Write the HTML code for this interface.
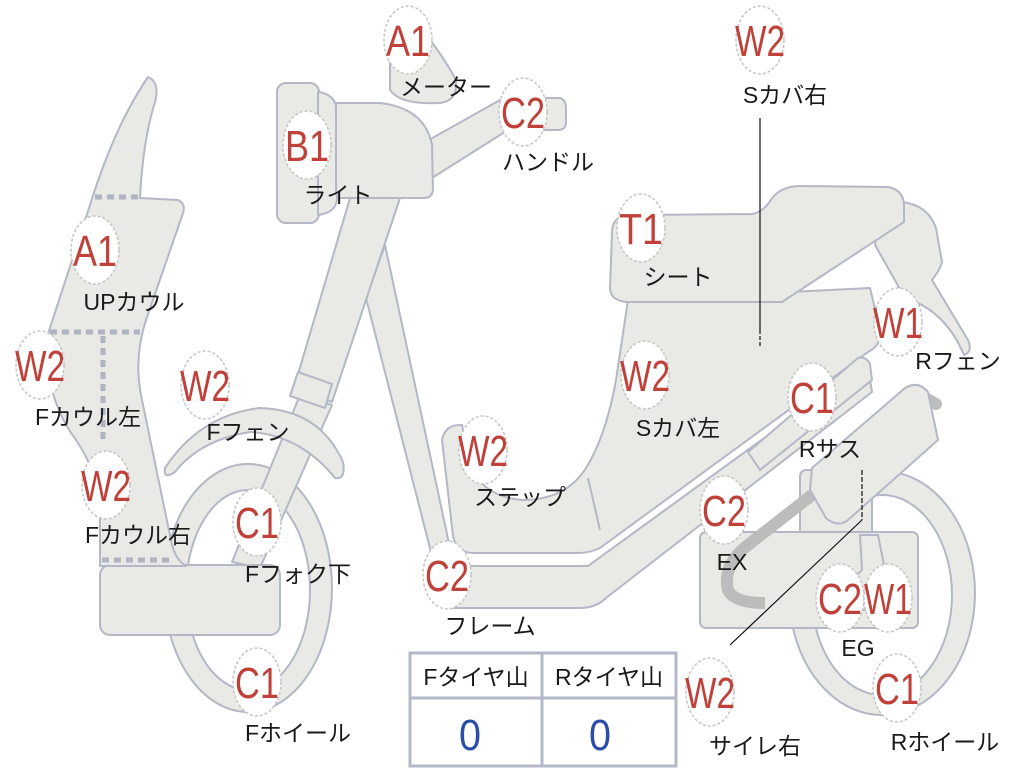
<!DOCTYPE html>
<html><head><meta charset="utf-8"><style>
html,body{margin:0;padding:0;background:#fff;width:1024px;height:768px;overflow:hidden}
svg{display:block}
.b{fill:#e9e9e5;stroke:#b4b8c6;stroke-width:2;stroke-linejoin:round}
.w{fill:#fff;stroke:#b4b8c6;stroke-width:2}
.bd ellipse{fill:#fff;stroke:#c4c4c4;stroke-width:1.5;stroke-dasharray:3 2}
.r{fill:#c0403a;font-family:"Liberation Sans",sans-serif;font-size:44px;text-anchor:middle}
.l{fill:#1a1a1a;font-family:"Liberation Sans","Noto Sans CJK JP",sans-serif;font-size:23px;text-anchor:middle}
.dot{stroke:#b0b4c2;stroke-width:5;stroke-dasharray:7 5;fill:none}
</style></head><body>
<svg width="1024" height="768" viewBox="0 0 1024 768" xmlns="http://www.w3.org/2000/svg">
<ellipse class="b" cx="882" cy="593" rx="93" ry="122"/>
<ellipse class="w" cx="882" cy="595" rx="70" ry="100"/>
<path class="b" d="M880,215 L902,202 Q928,205 936,228 L942,262 Q940,270 932,280 L968,340 Q973,352 964,355 Q945,310 905,298 L875,245 Z"/>
<path class="b" d="M628,300 L870,288 L880,330 Q882,345 868,352 L600,548 Q590,553 578,553 L472,553 Q456,552 453,536 L442,440 Q445,424 462,425 L470,462 Q480,496 522,500 Q566,500 586,468 Q606,436 616,380 Z"/>
<path d="M588,478 L600,530" stroke="#b4b8c6" stroke-width="2"/>
<path class="b" d="M612,232 Q612,216 630,215 L752,214 Q764,212 772,198 Q782,186 800,186 L888,187 Q904,190 904,206 L904,222 L782,302 L626,302 Q610,300 610,288 Z"/>
<path class="b" d="M432,588 Q430,566 452,566 L588,566 L855,372 Q866,368 870,380 L872,392 L606,598 Q596,608 580,608 L456,608 Q432,608 432,588 Z"/>
<path class="b" d="M385,245 L450,548 L432,556 L366,298 Z"/>
<rect class="b" x="800" y="470" width="72" height="70" rx="6"/>
<rect class="b" x="700" y="532" width="218" height="96" rx="6"/>
<path d="M812,495 L748,545 Q722,565 728,590 Q734,603 765,603" stroke="#bcbcbc" stroke-width="12" fill="none"/>
<path class="b" d="M860,535 L878,535 L885,570 Q905,585 905,610 L845,610 Q845,585 862,570 Z"/>
<path d="M925,398 L936,404" stroke="#bdbdbd" stroke-width="12" stroke-linecap="round"/>
<path class="b" d="M812,468 L905,388 Q918,380 928,392 L938,440 L848,520 Q838,528 826,518 L810,490 Z"/>
<path class="b" d="M748,452 L858,358 Q866,356 870,364 L872,380 L760,470 Z"/>
<ellipse class="b" cx="248" cy="588" rx="84" ry="124"/>
<ellipse class="w" cx="248" cy="590" rx="62" ry="100"/>
<path class="b" d="M300,395 L332,405 L260,568 L232,562 Z"/>
<path class="b" d="M350,198 L400,198 L332,402 L294,388 Z"/>
<path class="b" d="M298,372 L332,384 L325,408 L290,396 Z"/>
<path class="b" d="M165,468 Q200,415 260,408 Q320,410 343,462 Q346,480 335,478 Q300,435 250,432 Q200,440 175,472 Q163,480 165,468 Z"/>
<rect class="b" x="100" y="565" width="180" height="70" rx="10"/>
<path class="b" d="M148,77 Q160,82 155,102 Q143,140 140,198 L178,200 Q187,204 182,216 L146,320 Q133,360 142,400 L172,545 Q176,560 186,566 L100,566 L100,500 Q96,470 76,440 Q46,400 46,340 L90,205 Q115,125 148,77 Z"/>
<path class="dot" d="M95,197 L140,197"/>
<path class="dot" d="M50,332 L140,332 M103,336 L103,440"/>
<path class="dot" d="M102,560 L172,560"/>
<path class="b" d="M420,145 L500,100 L548,98 L560,98 Q566,100 566,108 L566,122 Q566,130 558,130 L540,130 L508,130 L432,178 Z"/>
<path class="b" d="M390,45 Q410,28 430,40 Q442,55 455,78 Q460,100 440,103 Q400,105 390,90 Z"/>
<rect class="b" x="277" y="83" width="42" height="140" rx="9"/>
<path class="b" d="M318,92 Q335,94 337,110 L337,200 Q335,213 318,215 Z"/>
<path class="b" d="M336,103 L380,103 Q425,108 432,145 L433,190 Q432,198 424,198 L340,198 Q336,198 336,190 Z"/>
<path d="M760,118 L760,330" stroke="#111" stroke-width="1.2"/>
<path d="M760,330 L760,348" stroke="#111" stroke-width="1.2" stroke-dasharray="4 2"/>
<path d="M862,470 L862,520" stroke="#111" stroke-width="1.2" stroke-dasharray="5 2"/>
<path d="M862,520 L730,645" stroke="#111" stroke-width="1.2"/>
<g fill="#fff" stroke="#b4b8c8" stroke-width="3">
<rect x="410" y="653" width="266" height="113"/>
<line x1="410" y1="698" x2="676" y2="698"/>
<line x1="542" y1="653" x2="542" y2="766"/>
</g>
<text class="l" x="476" y="685">Fタイヤ山</text>
<text class="l" x="609" y="685">Rタイヤ山</text>
<text x="470" y="750" fill="#2a4ea8" font-family="Liberation Sans,sans-serif" font-size="44" text-anchor="middle" textLength="22" lengthAdjust="spacingAndGlyphs">0</text>
<text x="600" y="750" fill="#2a4ea8" font-family="Liberation Sans,sans-serif" font-size="44" text-anchor="middle" textLength="22" lengthAdjust="spacingAndGlyphs">0</text>
<g class="bd">
<ellipse cx="408" cy="40" rx="24" ry="34"/>
<ellipse cx="523" cy="112" rx="24" ry="34"/>
<ellipse cx="307" cy="145" rx="24" ry="34"/>
<ellipse cx="760" cy="40" rx="24" ry="34"/>
<ellipse cx="641" cy="228" rx="24" ry="34"/>
<ellipse cx="95" cy="250" rx="24" ry="34"/>
<ellipse cx="898" cy="322" rx="24" ry="34"/>
<ellipse cx="40" cy="365" rx="24" ry="34"/>
<ellipse cx="205" cy="385" rx="24" ry="34"/>
<ellipse cx="645" cy="375" rx="24" ry="34"/>
<ellipse cx="812" cy="397" rx="24" ry="34"/>
<ellipse cx="483" cy="450" rx="24" ry="34"/>
<ellipse cx="106" cy="485" rx="24" ry="34"/>
<ellipse cx="257" cy="522" rx="24" ry="34"/>
<ellipse cx="724" cy="510" rx="24" ry="34"/>
<ellipse cx="447" cy="575" rx="24" ry="34"/>
<ellipse cx="840" cy="598" rx="24" ry="34"/>
<ellipse cx="888" cy="598" rx="24" ry="34"/>
<ellipse cx="257" cy="682" rx="24" ry="34"/>
<ellipse cx="897" cy="688" rx="24" ry="34"/>
<ellipse cx="710" cy="692" rx="24" ry="34"/>
</g>
<g class="r">
<text x="408" y="56" textLength="44" lengthAdjust="spacingAndGlyphs">A1</text>
<text x="523" y="128" textLength="44" lengthAdjust="spacingAndGlyphs">C2</text>
<text x="307" y="161" textLength="44" lengthAdjust="spacingAndGlyphs">B1</text>
<text x="760" y="56" textLength="50" lengthAdjust="spacingAndGlyphs">W2</text>
<text x="641" y="244" textLength="44" lengthAdjust="spacingAndGlyphs">T1</text>
<text x="95" y="266" textLength="44" lengthAdjust="spacingAndGlyphs">A1</text>
<text x="898" y="338" textLength="50" lengthAdjust="spacingAndGlyphs">W1</text>
<text x="40" y="381" textLength="50" lengthAdjust="spacingAndGlyphs">W2</text>
<text x="205" y="401" textLength="50" lengthAdjust="spacingAndGlyphs">W2</text>
<text x="645" y="391" textLength="50" lengthAdjust="spacingAndGlyphs">W2</text>
<text x="812" y="413" textLength="44" lengthAdjust="spacingAndGlyphs">C1</text>
<text x="483" y="466" textLength="50" lengthAdjust="spacingAndGlyphs">W2</text>
<text x="106" y="501" textLength="50" lengthAdjust="spacingAndGlyphs">W2</text>
<text x="257" y="538" textLength="44" lengthAdjust="spacingAndGlyphs">C1</text>
<text x="724" y="526" textLength="44" lengthAdjust="spacingAndGlyphs">C2</text>
<text x="447" y="591" textLength="44" lengthAdjust="spacingAndGlyphs">C2</text>
<text x="840" y="614" textLength="44" lengthAdjust="spacingAndGlyphs">C2</text>
<text x="888" y="614" textLength="48" lengthAdjust="spacingAndGlyphs">W1</text>
<text x="257" y="698" textLength="44" lengthAdjust="spacingAndGlyphs">C1</text>
<text x="897" y="704" textLength="44" lengthAdjust="spacingAndGlyphs">C1</text>
<text x="710" y="708" textLength="50" lengthAdjust="spacingAndGlyphs">W2</text>
</g>
<g class="l">
<text x="446" y="95">メーター</text>
<text x="548" y="170">ハンドル</text>
<text x="338" y="203">ライト</text>
<text x="785" y="103">Sカバ右</text>
<text x="678" y="285">シート</text>
<text x="134" y="310">UPカウル</text>
<text x="958" y="369">Rフェン</text>
<text x="88" y="425">Fカウル左</text>
<text x="248" y="440">Fフェン</text>
<text x="678" y="436">Sカバ左</text>
<text x="830" y="457">Rサス</text>
<text x="520" y="505">ステップ</text>
<text x="138" y="543">Fカウル右</text>
<text x="298" y="582">Fフォク下</text>
<text x="732" y="570">EX</text>
<text x="490" y="634">フレーム</text>
<text x="858" y="656">EG</text>
<text x="298" y="741">Fホイール</text>
<text x="945" y="750">Rホイール</text>
<text x="755" y="754">サイレ右</text>
</g>
</svg>
</body></html>
